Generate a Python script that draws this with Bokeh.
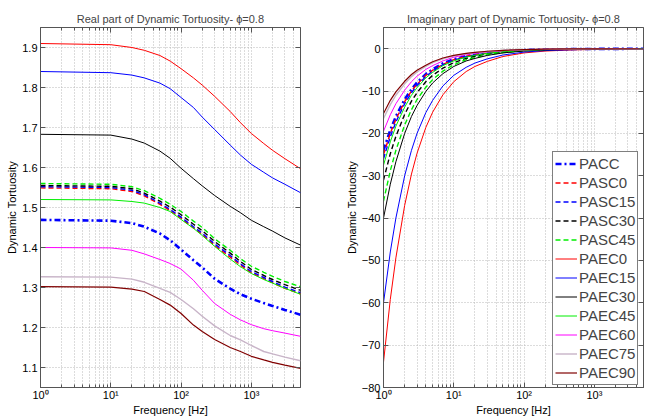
from bokeh.plotting import figure
from bokeh.layouts import row
from bokeh.models import (FixedTicker, CustomJSTickFormatter, Legend, LegendItem,
                          LogAxis, LinearAxis, Range1d)
from bokeh.embed import file_html
from bokeh.resources import INLINE

# ---------------- data ----------------
freq_re = [1, 10, 20, 30, 50, 70, 100, 150, 200, 300, 500, 700, 1000, 1500, 2000, 3000, 5000]

re_PACC   = [1.469, 1.467, 1.461, 1.452, 1.435, 1.418, 1.395, 1.368, 1.350, 1.322, 1.297, 1.283, 1.272, 1.261, 1.254, 1.244, 1.232]
re_PASC0  = [1.549, 1.547, 1.540, 1.529, 1.508, 1.492, 1.473, 1.449, 1.433, 1.405, 1.376, 1.356, 1.337, 1.322, 1.312, 1.298, 1.284]
re_PASC15 = [1.552, 1.550, 1.543, 1.532, 1.511, 1.495, 1.476, 1.452, 1.436, 1.409, 1.380, 1.359, 1.340, 1.325, 1.315, 1.301, 1.287]
re_PASC30 = [1.555, 1.553, 1.547, 1.536, 1.516, 1.501, 1.482, 1.458, 1.442, 1.415, 1.386, 1.365, 1.345, 1.330, 1.320, 1.307, 1.293]
re_PASC45 = [1.560, 1.558, 1.552, 1.542, 1.523, 1.508, 1.490, 1.466, 1.450, 1.422, 1.393, 1.372, 1.353, 1.338, 1.328, 1.315, 1.302]
re_PAEC0  = [1.910, 1.907, 1.900, 1.893, 1.880, 1.866, 1.847, 1.824, 1.806, 1.778, 1.740, 1.712, 1.685, 1.660, 1.643, 1.622, 1.597]
re_PAEC15 = [1.840, 1.837, 1.831, 1.824, 1.811, 1.797, 1.775, 1.750, 1.726, 1.695, 1.656, 1.631, 1.608, 1.588, 1.574, 1.558, 1.537]
re_PAEC30 = [1.683, 1.681, 1.671, 1.661, 1.641, 1.623, 1.598, 1.572, 1.554, 1.530, 1.503, 1.487, 1.468, 1.452, 1.441, 1.424, 1.406]
re_PAEC45 = [1.520, 1.519, 1.515, 1.511, 1.500, 1.490, 1.470, 1.448, 1.430, 1.403, 1.371, 1.352, 1.335, 1.320, 1.311, 1.298, 1.283]
re_PAEC60 = [1.400, 1.399, 1.393, 1.384, 1.370, 1.360, 1.346, 1.318, 1.293, 1.260, 1.233, 1.219, 1.207, 1.197, 1.192, 1.186, 1.178]
re_PAEC75 = [1.327, 1.326, 1.321, 1.313, 1.298, 1.288, 1.270, 1.247, 1.228, 1.204, 1.180, 1.169, 1.155, 1.140, 1.134, 1.126, 1.117]
re_PAEC90 = [1.302, 1.301, 1.296, 1.290, 1.270, 1.256, 1.235, 1.206, 1.190, 1.170, 1.150, 1.140, 1.128, 1.119, 1.113, 1.106, 1.098]

freq_im = [1, 1.25, 1.5, 2, 2.5, 3, 4, 5, 7, 10, 15, 20, 30, 50, 100, 200, 500, 1000, 5000]

im_PACC   = [-24.0, -19.2, -16.0, -12.0, -9.6, -8.0, -6.0, -4.9, -3.5, -2.5, -1.75, -1.37, -0.96, -0.60, -0.32, -0.18, -0.09, -0.06, -0.02]
im_PASC0  = [-25.0, -20.0, -16.7, -12.5, -10.0, -8.4, -6.3, -5.1, -3.7, -2.6, -1.8, -1.43, -1.0, -0.63, -0.34, -0.19, -0.10, -0.06, -0.03]
im_PASC15 = [-26.0, -20.8, -17.3, -13.0, -10.4, -8.7, -6.6, -5.3, -3.8, -2.7, -1.9, -1.48, -1.04, -0.65, -0.35, -0.20, -0.10, -0.06, -0.03]
im_PASC30 = [-31.0, -24.8, -20.7, -15.5, -12.4, -10.4, -7.8, -6.3, -4.6, -3.3, -2.3, -1.8, -1.24, -0.78, -0.42, -0.23, -0.12, -0.07, -0.03]
im_PASC45 = [-36.0, -28.8, -24.0, -18.0, -14.4, -12.0, -9.1, -7.3, -5.3, -3.8, -2.6, -2.1, -1.44, -0.90, -0.49, -0.27, -0.14, -0.09, -0.04]
im_PAEC0  = [-74.0, -59.2, -49.4, -37.0, -29.6, -24.7, -18.6, -15.0, -10.9, -7.8, -5.4, -4.2, -3.0, -1.85, -1.0, -0.56, -0.28, -0.18, -0.07]
im_PAEC15 = [-60.0, -48.0, -40.0, -30.0, -24.0, -20.0, -15.1, -12.2, -8.8, -6.3, -4.4, -3.4, -2.4, -1.5, -0.81, -0.45, -0.23, -0.14, -0.06]
im_PAEC30 = [-40.0, -32.0, -26.7, -20.0, -16.0, -13.4, -10.1, -8.1, -5.9, -4.2, -2.9, -2.3, -1.6, -1.0, -0.54, -0.30, -0.15, -0.10, -0.04]
im_PAEC45 = [-27.5, -22.0, -18.3, -13.8, -11.0, -9.2, -6.9, -5.6, -4.0, -2.9, -2.0, -1.57, -1.1, -0.69, -0.37, -0.21, -0.10, -0.07, -0.03]
im_PAEC60 = [-19.5, -15.6, -13.0, -9.8, -7.8, -6.5, -4.9, -4.0, -2.9, -2.0, -1.42, -1.11, -0.78, -0.49, -0.26, -0.15, -0.07, -0.05, -0.02]
im_PAEC75 = [-16.5, -13.2, -11.0, -8.3, -6.6, -5.5, -4.2, -3.3, -2.4, -1.7, -1.2, -0.94, -0.66, -0.41, -0.22, -0.12, -0.06, -0.04, -0.02]
im_PAEC90 = [-15.3, -12.2, -10.2, -7.7, -6.1, -5.1, -3.9, -3.1, -2.2, -1.6, -1.1, -0.87, -0.61, -0.38, -0.21, -0.11, -0.06, -0.04, -0.02]

names = ["PACC", "PASC0", "PASC15", "PASC30", "PASC45", "PAEC0", "PAEC15",
         "PAEC30", "PAEC45", "PAEC60", "PAEC75", "PAEC90"]
real_data = [re_PACC, re_PASC0, re_PASC15, re_PASC30, re_PASC45, re_PAEC0, re_PAEC15,
             re_PAEC30, re_PAEC45, re_PAEC60, re_PAEC75, re_PAEC90]
imag_data = [im_PACC, im_PASC0, im_PASC15, im_PASC30, im_PASC45, im_PAEC0, im_PAEC15,
             im_PAEC30, im_PAEC45, im_PAEC60, im_PAEC75, im_PAEC90]

x_major = [1, 10, 100, 1000]
x_minor = [2, 3, 4, 5, 6, 7, 8, 9, 20, 30, 40, 50, 60, 70, 80, 90,
           200, 300, 400, 500, 600, 700, 800, 900, 2000, 3000, 4000, 5000]
re_yticks = [1.1, 1.2, 1.3, 1.4, 1.5, 1.6, 1.7, 1.8, 1.9]
im_yticks = [-80, -70, -60, -50, -40, -30, -20, -10, 0]

# ---------------- styles ----------------
styles = [
    ("#0000ff", "6 3 2 3", 2.6),   # PACC
    ("#ff0000", "5 3", 1.4),       # PASC0
    ("#0000ff", "5 3", 1.4),       # PASC15
    ("#000000", "5 3", 1.4),       # PASC30
    ("#00ee00", "5 3", 1.4),       # PASC45
    ("#ff0000", "solid", 1.0),     # PAEC0
    ("#0000ff", "solid", 1.0),     # PAEC15
    ("#000000", "solid", 1.0),     # PAEC30
    ("#00ee00", "solid", 1.0),     # PAEC45
    ("#ff00ff", "solid", 1.0),     # PAEC60
    ("#c8b4c8", "solid", 1.4),     # PAEC75
    ("#800000", "solid", 1.2),     # PAEC90
]

FONT = "Liberation Sans"
AXCOL = "#555555"
GRIDCOL = "#b8b8b8"

sup_code = """
const sup = {'0':'\u2070','1':'\u00b9','2':'\u00b2','3':'\u00b3','4':'\u2074','5':'\u2075','-':'\u207b'};
const e = Math.round(Math.log10(tick));
return '10' + String(e).split('').map(c => sup[c]).join('');
"""


def make_fig(title, width, yr, yticks, mbl, mbr):
    p = figure(width=width, height=418, x_axis_type="log",
               x_range=Range1d(1, 5000), y_range=Range1d(*yr),
               output_backend="svg", toolbar_location=None,
               min_border_left=mbl, min_border_right=mbr,
               min_border_top=27, min_border_bottom=30, title=title)
    p.title.text_font = FONT
    p.title.text_font_size = "11px"
    p.title.text_font_style = "normal"
    p.title.align = "center"
    p.title.standoff = 6
    p.background_fill_color = "white"
    p.border_fill_color = "white"
    p.outline_line_color = AXCOL
    p.outline_line_width = 1

    xt = FixedTicker(ticks=x_major, minor_ticks=x_minor)
    yt = FixedTicker(ticks=yticks)
    p.xaxis.ticker = xt
    p.yaxis.ticker = yt
    p.xaxis.formatter = CustomJSTickFormatter(code=sup_code)
    for ax in (p.xaxis[0], p.yaxis[0]):
        ax.axis_line_color = AXCOL
        ax.major_tick_line_color = AXCOL
        ax.minor_tick_line_color = AXCOL
        ax.major_tick_in = 5
        ax.major_tick_out = 0
        ax.minor_tick_in = 3
        ax.minor_tick_out = 0
        ax.major_label_text_font = FONT
        ax.major_label_text_font_size = "11px"
        ax.major_label_text_color = "black"
        ax.axis_label_text_font = FONT
        ax.axis_label_text_font_size = "11px"
        ax.axis_label_text_font_style = "normal"
        ax.axis_label_text_color = "black"
    p.xaxis.axis_label = "Frequency [Hz]"
    p.yaxis.axis_label = "Dynamic Tortuosity"
    p.xaxis.major_label_standoff = 1
    p.xaxis.axis_label_standoff = 0
    p.yaxis.major_label_standoff = 3
    p.yaxis.axis_label_standoff = 1

    # mirrored tick marks on top/right (box on)
    top = LogAxis(ticker=xt, formatter=CustomJSTickFormatter(code="return ''"),
                  major_label_text_font_size="0px", major_label_standoff=0,
                  major_tick_in=5, major_tick_out=0, minor_tick_in=3, minor_tick_out=0,
                  axis_line_color=None, major_tick_line_color=AXCOL, minor_tick_line_color=AXCOL)
    right = LinearAxis(ticker=yt, formatter=CustomJSTickFormatter(code="return ''"),
                       major_label_text_font_size="0px", major_label_standoff=0,
                       major_tick_in=5, major_tick_out=0, minor_tick_in=0, minor_tick_out=0,
                       axis_line_color=None, major_tick_line_color=AXCOL)
    p.add_layout(top, "above")
    p.add_layout(right, "right")

    p.xgrid.grid_line_color = GRIDCOL
    p.xgrid.grid_line_dash = "1 2"
    p.xgrid.minor_grid_line_color = GRIDCOL
    p.xgrid.minor_grid_line_dash = "1 2"
    p.ygrid.grid_line_color = GRIDCOL
    p.ygrid.grid_line_dash = "1 2"
    return p


p1 = make_fig("Real part of Dynamic Tortuosity- \u03d5=0.8", 328, (1.05, 1.95), re_yticks, 40, 28)
p2 = make_fig("Imaginary part of Dynamic Tortuosity- \u03d5=0.8", 320, (-80, 5), im_yticks, 55, 5)

items = []
for name, yre, yim, (col, dash, w) in zip(names, real_data, imag_data, styles):
    p1.line(freq_re, yre, line_color=col, line_dash=dash, line_width=w)
    r = p2.line(freq_im, yim, line_color=col, line_dash=dash, line_width=w)
    items.append(LegendItem(label=name, renderers=[r]))

legend = Legend(items=items, location=(169, 2))
legend.label_text_font = FONT
legend.label_text_font_size = "15px"
legend.glyph_width = 22
legend.glyph_height = 19
legend.label_height = 19
legend.spacing = 0
legend.padding = 2
legend.margin = 0
legend.label_standoff = 2
legend.border_line_color = "black"
legend.border_line_width = 1
legend.background_fill_color = "white"
legend.background_fill_alpha = 1.0
p2.add_layout(legend)

layout = row(p1, p2)
with open("out.html", "w", encoding="utf-8") as fh:
    fh.write(file_html(layout, INLINE))
